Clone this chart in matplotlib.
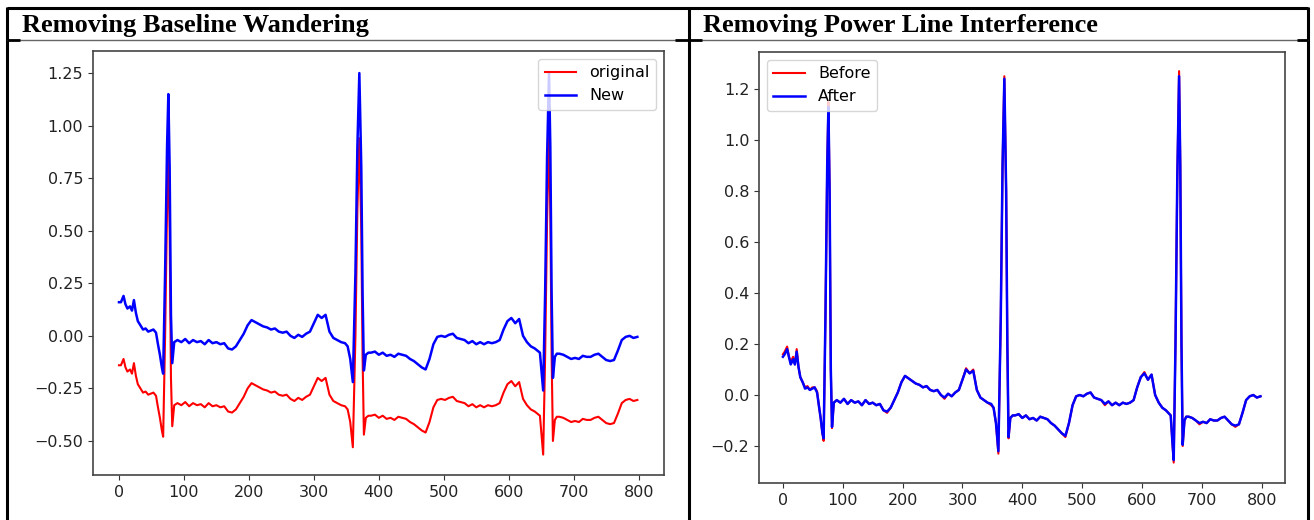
import numpy as np
import matplotlib.pyplot as plt
from matplotlib.lines import Line2D

# sample index of each reading (denser around the QRS complexes)
idx = [0, 3, 7, 10, 13, 17, 20, 23, 26, 29, 33, 37, 41, 45, 49, 53, 57, 60,
       63, 66, 68, 71, 74, 76, 78, 80, 82, 85,
       90, 96, 102, 108, 114, 120, 126, 132, 138, 144, 150, 156, 162, 168, 174,
       180, 186, 192, 198, 204, 210, 216, 222, 228, 234, 240, 246, 252, 258,
       264, 270, 276, 282, 288, 294, 300, 306, 312, 318, 324, 330, 336, 342, 348,
       352, 356, 360, 364, 367, 370, 373, 375, 377, 380, 384,
       388, 394, 400, 406, 412, 418, 424, 430, 436, 442, 448, 454, 460, 466, 472,
       478, 484, 490, 496, 502, 508, 514, 520, 526, 532, 538, 544, 550, 556, 562,
       568, 574, 580, 586, 592, 598, 604, 610, 616, 622, 628, 634, 640, 644,
       648, 651, 653, 656, 659, 662, 664, 666, 668, 671, 674,
       678, 684, 690, 696, 702, 708, 714, 720, 726, 732, 738, 744, 750, 756, 762,
       768, 774, 780, 786, 792, 798]

# left panel: baseline wandering
original = [-0.14, -0.14, -0.11, -0.15, -0.17, -0.16, -0.18, -0.13, -0.19, -0.23, -0.25, -0.27, -0.265, -0.28, -0.275, -0.27, -0.285, -0.34,
            -0.39, -0.45, -0.48, 0.0, 0.6, 0.85, 0.5, -0.2, -0.43, -0.33,
            -0.32, -0.33, -0.315, -0.335, -0.32, -0.33, -0.325, -0.34, -0.32, -0.335, -0.33, -0.34, -0.335, -0.36, -0.365,
            -0.35, -0.32, -0.29, -0.25, -0.225, -0.235, -0.245, -0.255, -0.26, -0.27, -0.265, -0.28, -0.285, -0.28,
            -0.30, -0.31, -0.295, -0.305, -0.29, -0.28, -0.24, -0.20, -0.215, -0.20, -0.28, -0.31, -0.32, -0.33, -0.335,
            -0.35, -0.41, -0.53, 0.0, 0.6, 0.94, 0.5, -0.1, -0.47, -0.39, -0.38,
            -0.38, -0.375, -0.39, -0.38, -0.395, -0.39, -0.40, -0.385, -0.39, -0.395, -0.41, -0.42, -0.435, -0.45, -0.46,
            -0.41, -0.34, -0.305, -0.30, -0.305, -0.295, -0.29, -0.31, -0.315, -0.32, -0.335, -0.325, -0.34, -0.33, -0.34,
            -0.33, -0.335, -0.33, -0.32, -0.27, -0.23, -0.215, -0.24, -0.22, -0.30, -0.33, -0.35, -0.36, -0.37,
            -0.38, -0.49, -0.565, -0.1, 0.55, 0.95, 0.6, -0.1, -0.50, -0.40, -0.385,
            -0.385, -0.39, -0.40, -0.41, -0.405, -0.41, -0.395, -0.40, -0.40, -0.39, -0.385, -0.40, -0.415, -0.42, -0.415,
            -0.37, -0.32, -0.305, -0.30, -0.31, -0.305]

new = [0.16, 0.16, 0.19, 0.15, 0.13, 0.14, 0.12, 0.17, 0.11, 0.07, 0.05, 0.03, 0.035, 0.02, 0.025, 0.03, 0.015, -0.04,
       -0.09, -0.15, -0.18, 0.3, 0.9, 1.15, 0.8, 0.1, -0.13, -0.03,
       -0.02, -0.03, -0.015, -0.035, -0.02, -0.03, -0.025, -0.04, -0.02, -0.035, -0.03, -0.04, -0.035, -0.06, -0.065,
       -0.05, -0.02, 0.01, 0.05, 0.075, 0.065, 0.055, 0.045, 0.04, 0.03, 0.035, 0.02, 0.015, 0.02,
       0.0, -0.01, 0.005, -0.005, 0.01, 0.02, 0.06, 0.10, 0.085, 0.10, 0.02, -0.01, -0.02, -0.03, -0.035,
       -0.05, -0.11, -0.22, 0.3, 0.9, 1.25, 0.8, 0.2, -0.165, -0.09, -0.08,
       -0.08, -0.075, -0.09, -0.08, -0.095, -0.09, -0.10, -0.085, -0.09, -0.095, -0.11, -0.12, -0.135, -0.15, -0.16,
       -0.11, -0.04, -0.005, 0.0, -0.005, 0.005, 0.01, -0.01, -0.015, -0.02, -0.035, -0.025, -0.04, -0.03, -0.04,
       -0.03, -0.035, -0.03, -0.02, 0.03, 0.07, 0.085, 0.06, 0.08, 0.0, -0.03, -0.05, -0.06, -0.07,
       -0.08, -0.19, -0.26, 0.2, 0.85, 1.25, 0.9, 0.2, -0.20, -0.10, -0.085,
       -0.085, -0.09, -0.10, -0.11, -0.105, -0.11, -0.095, -0.10, -0.10, -0.09, -0.085, -0.10, -0.115, -0.12, -0.115,
       -0.07, -0.02, -0.005, 0.0, -0.01, -0.005]

# right panel: power line interference
before = [0.16, 0.17, 0.19, 0.15, 0.13, 0.15, 0.12, 0.18, 0.11, 0.07, 0.05, 0.03, 0.035, 0.02, 0.03, 0.03, 0.015, -0.04,
          -0.09, -0.15, -0.18, 0.3, 0.9, 1.15, 0.8, 0.1, -0.13, -0.03,
          -0.02, -0.03, -0.015, -0.035, -0.02, -0.03, -0.025, -0.04, -0.02, -0.035, -0.03, -0.04, -0.035, -0.06, -0.07,
          -0.05, -0.02, 0.01, 0.05, 0.075, 0.065, 0.055, 0.045, 0.04, 0.03, 0.035, 0.02, 0.015, 0.02,
          0.0, -0.015, 0.005, -0.005, 0.01, 0.02, 0.06, 0.105, 0.085, 0.10, 0.02, -0.01, -0.02, -0.03, -0.04,
          -0.05, -0.11, -0.23, 0.3, 0.9, 1.25, 0.8, 0.2, -0.17, -0.09, -0.08,
          -0.08, -0.075, -0.09, -0.08, -0.095, -0.09, -0.10, -0.085, -0.09, -0.095, -0.11, -0.12, -0.135, -0.15, -0.165,
          -0.11, -0.04, -0.005, 0.0, -0.005, 0.005, 0.01, -0.01, -0.015, -0.02, -0.04, -0.025, -0.04, -0.03, -0.04,
          -0.03, -0.035, -0.03, -0.02, 0.03, 0.07, 0.09, 0.06, 0.08, 0.0, -0.03, -0.05, -0.06, -0.07,
          -0.08, -0.19, -0.265, 0.2, 0.85, 1.27, 0.9, 0.2, -0.20, -0.10, -0.085,
          -0.085, -0.09, -0.10, -0.115, -0.105, -0.11, -0.095, -0.10, -0.10, -0.09, -0.085, -0.10, -0.115, -0.125, -0.115,
          -0.07, -0.02, -0.005, 0.0, -0.01, -0.005]

after = [0.15, 0.16, 0.18, 0.15, 0.12, 0.14, 0.12, 0.17, 0.11, 0.07, 0.05, 0.025, 0.03, 0.02, 0.025, 0.03, 0.01, -0.04,
         -0.09, -0.15, -0.17, 0.3, 0.9, 1.13, 0.8, 0.1, -0.125, -0.03,
         -0.02, -0.03, -0.015, -0.035, -0.02, -0.03, -0.025, -0.04, -0.02, -0.035, -0.03, -0.04, -0.035, -0.06, -0.065,
         -0.05, -0.02, 0.01, 0.05, 0.075, 0.065, 0.055, 0.045, 0.04, 0.03, 0.035, 0.02, 0.015, 0.02,
         0.0, -0.01, 0.005, -0.005, 0.01, 0.02, 0.06, 0.10, 0.085, 0.095, 0.02, -0.01, -0.02, -0.03, -0.035,
         -0.05, -0.11, -0.22, 0.3, 0.9, 1.24, 0.8, 0.2, -0.165, -0.09, -0.08,
         -0.08, -0.075, -0.09, -0.08, -0.095, -0.09, -0.10, -0.085, -0.09, -0.095, -0.11, -0.12, -0.135, -0.15, -0.16,
         -0.11, -0.04, -0.005, 0.0, -0.005, 0.005, 0.01, -0.01, -0.015, -0.02, -0.035, -0.025, -0.04, -0.03, -0.04,
         -0.03, -0.035, -0.03, -0.02, 0.03, 0.07, 0.085, 0.06, 0.08, 0.0, -0.03, -0.05, -0.06, -0.07,
         -0.08, -0.19, -0.255, 0.2, 0.85, 1.25, 0.9, 0.2, -0.195, -0.10, -0.085,
         -0.085, -0.09, -0.10, -0.11, -0.105, -0.11, -0.095, -0.10, -0.10, -0.09, -0.085, -0.10, -0.115, -0.12, -0.115,
         -0.07, -0.02, -0.005, 0.0, -0.01, -0.005]

titles = ["Removing Baseline Wandering", "Removing Power Line Interference"]
left_labels = ["original", "New"]
right_labels = ["Before", "After"]
xticks = [0, 100, 200, 300, 400, 500, 600, 700, 800]
left_yticks = [-0.50, -0.25, 0.00, 0.25, 0.50, 0.75, 1.00, 1.25]
right_yticks = [-0.2, 0.0, 0.2, 0.4, 0.6, 0.8, 1.0, 1.2]

W, H = 1314, 520


def fx(px):
    return px / W


def fy(py):
    return 1 - py / H


def line(fig, x0, y0, x1, y1, lw=2.0, color="black"):
    fig.add_artist(Line2D([fx(x0), fx(x1)], [fy(y0), fy(y1)], lw=lw, color=color,
                          solid_capstyle="butt"))


def draw_table(fig):
    line(fig, 7, 8, 1308, 8, lw=2.2)
    for x in [7, 689, 1308]:
        line(fig, x, 7, x, 520, lw=2.2)
    # thin rule under the header row, with the heavier bits at the joints
    line(fig, 7, 40, 1308, 40, lw=1.0, color="#666666")
    line(fig, 7, 40, 20, 40, lw=2.0)
    line(fig, 675, 40, 702, 40, lw=2.0)
    line(fig, 1297, 40, 1308, 40, lw=2.0)
    fig.text(fx(22), fy(32), titles[0], fontsize=19, fontweight="bold",
             family=["Liberation Serif"], va="baseline", ha="left")
    fig.text(fx(703), fy(32), titles[1], fontsize=19, fontweight="bold",
             family=["Liberation Serif"], va="baseline", ha="left")


def ecg_panel(ax, red_vals, blue_vals, labels, loc, ylim, yticks, fmt):
    ax.plot(idx, red_vals, color="red", lw=1.5, label=labels[0])
    ax.plot(idx, blue_vals, color="blue", lw=1.8, label=labels[1])
    ax.set_xlim(-40, 839)
    ax.set_ylim(*ylim)
    ax.set_xticks(xticks)
    ax.set_yticks(yticks)
    ax.set_yticklabels([fmt.format(v).replace("-", "\u2212") for v in yticks])
    ax.tick_params(labelsize=11.5, color="#333333", labelcolor="#222222")
    for s in ax.spines.values():
        s.set_color("#444444")
        s.set_linewidth(1.2)
    ax.legend(loc=loc, fontsize=11.5)


fig = plt.figure(figsize=(W / 100, H / 100), dpi=100)

ax1 = fig.add_axes([fx(93), fy(475), fx(664) - fx(93), (475 - 51) / H])
ecg_panel(ax1, original, new, left_labels, "upper right", (-0.662, 1.355), left_yticks, "{:.2f}")

ax2 = fig.add_axes([fx(759), fy(483), fx(1285) - fx(759), (483 - 52) / H])
ecg_panel(ax2, before, after, right_labels, "upper left", (-0.345, 1.345), right_yticks, "{:.1f}")

draw_table(fig)

plt.savefig("out.png", dpi=100)
